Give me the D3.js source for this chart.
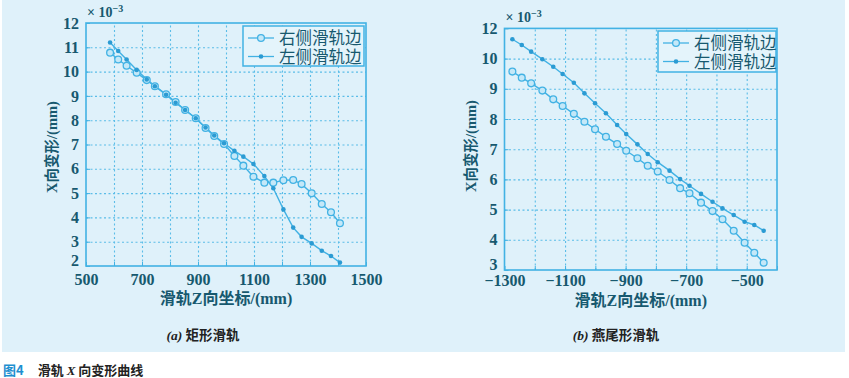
<!DOCTYPE html>
<html>
<head>
<meta charset="utf-8">
<script src="https://cdn.jsdelivr.net/npm/d3@7"></script>
<style>
  body { margin: 0; background: #fff; }
  svg { display: block; }
</style>
</head>
<body>
<svg id="chart" width="849" height="378"></svg>
<script>
// rectangular rail (a)
const rectZ = [586, 615, 645, 681, 717, 746, 786, 820, 854, 892, 927, 958, 993,
  1030, 1062, 1098, 1137, 1169, 1205, 1240, 1270, 1306, 1342, 1375, 1407];
const rectRight = [10.78, 10.5, 10.24, 9.95, 9.65, 9.4, 9.07, 8.75, 8.42, 8.08, 7.68, 7.35, 7.02,
  6.53, 6.13, 5.67, 5.43, 5.43, 5.53, 5.54, 5.37, 4.99, 4.55, 4.21, 3.76];
const rectLeft = [11.2, 10.85, 10.5, 10.07, 9.68, 9.4, 9.05, 8.72, 8.42, 8.08, 7.7, 7.37, 7.05,
  6.74, 6.5, 6.2, 5.7, 5.2, 4.33, 3.58, 3.2, 2.93, 2.63, 2.41, 2.14];

// dovetail rail (b)
const doveZ = [-1274, -1243, -1212, -1175, -1139, -1108, -1071, -1036, -1001, -965, -928, -898,
  -861, -827, -794, -755, -720, -689, -651, -613, -580, -543, -507, -475, -444];
const doveRight = [9.57, 9.37, 9.18, 8.94, 8.65, 8.43, 8.17, 7.91, 7.66, 7.41, 7.17, 6.95,
  6.7, 6.45, 6.26, 5.98, 5.71, 5.54, 5.23, 4.95, 4.68, 4.3, 3.9, 3.57, 3.24];
const doveLeft = [10.64, 10.45, 10.23, 9.98, 9.73, 9.49, 9.2, 8.85, 8.52, 8.19, 7.8, 7.5,
  7.16, 6.84, 6.57, 6.29, 6.01, 5.79, 5.52, 5.26, 5.04, 4.82, 4.6, 4.49, 4.3];

const seriesNames = ['右侧滑轨边', '左侧滑轨边'];
const rectXTicks = [500, 700, 900, 1100, 1300, 1500];
const rectYTicks = [2, 3, 4, 5, 6, 7, 8, 9, 10, 11, 12];
const doveXTicks = [-1300, -1100, -900, -700, -500];
const doveYTicks = [3, 4, 5, 6, 7, 8, 9, 10, 11];
// the top label of (b) is printed as 12 in the figure
const doveYTickLabels = ['3', '4', '5', '6', '7', '8', '9', '10', '12'];

const lineColor = '#42b2e4';
const textColor = '#17596f';
const serif = '"Liberation Serif", "Noto Sans CJK SC", serif';
const sans = '"Noto Sans CJK SC", "Noto Sans", sans-serif';

const svg = d3.select('#chart');

svg.append('rect')
  .attr('x', 2).attr('y', 0)
  .attr('width', 843).attr('height', 352)
  .attr('fill', '#dff1fa');

function panel(cfg) {
  const x = d3.scaleLinear().domain(cfg.xDomain).range(cfg.xRange);
  const y = d3.scaleLinear().domain(cfg.yDomain).range(cfg.yRange);
  const [x0, x1] = cfg.xRange;
  const [y0, y1] = cfg.yRange;
  const g = svg.append('g');

  // grid
  const xGrid = d3.range(cfg.xDomain[0] + cfg.gridStep, cfg.xDomain[1], cfg.gridStep);
  const yGrid = d3.range(cfg.yDomain[0] + 1, cfg.yDomain[1], 1);
  g.append('g')
    .attr('transform', `translate(0,${y0})`)
    .call(d3.axisBottom(x).tickValues(xGrid).tickSize(-(y0 - y1)).tickFormat(''))
    .call((a) => a.select('.domain').remove())
    .selectAll('line')
      .attr('stroke', '#5bbde8')
      .attr('stroke-width', 1.1)
      .attr('stroke-dasharray', '2,2.5');
  g.append('g')
    .attr('transform', `translate(${x0},0)`)
    .call(d3.axisLeft(y).tickValues(yGrid).tickSize(-(x1 - x0)).tickFormat(''))
    .call((a) => a.select('.domain').remove())
    .selectAll('line')
      .attr('stroke', '#5bbde8')
      .attr('stroke-width', 1.1)
      .attr('stroke-dasharray', '2,2.5');

  // axes
  const xAxis = g.append('g')
    .attr('transform', `translate(0,${y0})`)
    .call(d3.axisBottom(x).tickValues(d3.range(cfg.xDomain[0], cfg.xDomain[1] + 1, cfg.gridStep))
      .tickSize(-4).tickPadding(cfg.xPad)
      .tickFormat((d) => (cfg.xTicks.includes(d) ? d3.format('')(d) : '')));
  const yAxis = g.append('g')
    .attr('transform', `translate(${x0},0)`)
    .call(d3.axisLeft(y).tickValues(cfg.yTicks).tickSize(-4).tickPadding(7)
      .tickFormat((d, i) => (cfg.yLabels ? cfg.yLabels[i] : d)));
  [xAxis, yAxis].forEach((a) => {
    a.select('.domain').remove();
    a.selectAll('line').attr('stroke', lineColor);
    a.selectAll('text')
      .attr('fill', textColor)
      .style('font-family', serif)
      .style('font-weight', 'bold')
      .style('font-size', '16px');
  });
  // lift the lowest y label a touch so it clears the x labels
  yAxis.selectAll('.tick text').filter((d) => d === cfg.yDomain[0]).attr('dy', '-0.05em');

  g.append('rect')
    .attr('x', x0).attr('y', y1)
    .attr('width', x1 - x0).attr('height', y0 - y1)
    .attr('fill', 'none')
    .attr('stroke', lineColor)
    .attr('stroke-width', 1.6);

  // exponent
  const ex = g.append('text')
    .attr('x', x0 + 1).attr('y', y1 - 6)
    .attr('fill', textColor)
    .style('font-family', serif)
    .style('font-weight', 'bold')
    .style('font-size', '14px');
  ex.append('tspan').text('× 10');
  ex.append('tspan').attr('dy', -5).style('font-size', '10px').text('−3');

  // titles
  g.append('text')
    .attr('x', (x0 + x1) / 2).attr('y', cfg.xTitleY)
    .attr('text-anchor', 'middle')
    .attr('fill', textColor)
    .style('font-family', serif)
    .style('font-weight', 'bold')
    .style('font-size', '16px')
    .text('滑轨Z向坐标/(mm)');
  g.append('text')
    .attr('transform', `translate(${x0 - 29},${cfg.yTitleY}) rotate(-90)`)
    .attr('text-anchor', 'middle')
    .attr('fill', textColor)
    .style('font-family', serif)
    .style('font-weight', 'bold')
    .style('font-size', '14.5px')
    .text('X向变形/(mm)');

  // series
  const line = d3.line().x((d) => x(d[0])).y((d) => y(d[1]));
  const right = cfg.z.map((z, i) => [z, cfg.right[i]]);
  const left = cfg.z.map((z, i) => [z, cfg.left[i]]);
  [right, left].forEach((pts) => {
    g.append('path')
      .datum(pts)
      .attr('d', line)
      .attr('fill', 'none')
      .attr('stroke', lineColor)
      .attr('stroke-width', 1.4);
  });
  g.append('g').selectAll('circle').data(right).join('circle')
    .attr('cx', (d) => x(d[0])).attr('cy', (d) => y(d[1]))
    .attr('r', 3.4)
    .attr('fill', '#c4e8f8')
    .attr('stroke', lineColor)
    .attr('stroke-width', 1.3);
  g.append('g').selectAll('circle').data(left).join('circle')
    .attr('cx', (d) => x(d[0])).attr('cy', (d) => y(d[1]))
    .attr('r', 2.3)
    .attr('fill', '#2b9bd3');

  // legend
  const [lx, ly, lw, lh] = cfg.legend;
  const lg = g.append('g').attr('transform', `translate(${lx},${ly})`);
  lg.append('rect')
    .attr('width', lw).attr('height', lh)
    .attr('fill', '#e4f4fb')
    .attr('stroke', lineColor)
    .attr('stroke-width', 1.5);
  seriesNames.forEach((name, i) => {
    const cy = 12 + i * 18.5;
    lg.append('line')
      .attr('x1', 5).attr('x2', 31).attr('y1', cy).attr('y2', cy)
      .attr('stroke', lineColor).attr('stroke-width', 1.3);
    if (i === 0) {
      lg.append('circle').attr('cx', 18).attr('cy', cy).attr('r', 3.4)
        .attr('fill', '#c4e8f8').attr('stroke', lineColor).attr('stroke-width', 1.3);
    } else {
      lg.append('circle').attr('cx', 18).attr('cy', cy).attr('r', 2.3).attr('fill', '#2b9bd3');
    }
    lg.append('text')
      .attr('x', 36).attr('y', cy + 6)
      .attr('fill', textColor)
      .style('font-family', serif)
      .style('font-size', '16.5px')
      .text(name);
  });

  // sub caption
  const sc = svg.append('text')
    .attr('x', cfg.captionX).attr('y', 340)
    .attr('text-anchor', 'middle')
    .attr('fill', '#222')
    .style('font-family', sans)
    .style('font-weight', 'bold')
    .style('font-size', '13.5px');
  sc.append('tspan')
    .style('font-family', serif)
    .style('font-style', 'italic')
    .text(cfg.captionTag + ' ');
  sc.append('tspan').text(cfg.caption);
}

panel({
  xDomain: [500, 1500], yDomain: [2, 12],
  xRange: [86, 366], yRange: [266, 23],
  gridStep: 100, xPad: 8,
  xTicks: rectXTicks, yTicks: rectYTicks,
  z: rectZ, right: rectRight, left: rectLeft,
  legend: [243, 26, 121, 40],
  xTitleY: 304, yTitleY: 147,
  captionX: 203, captionTag: '(a)', caption: '矩形滑轨',
});

panel({
  xDomain: [-1300, -400], yDomain: [3, 11],
  xRange: [504.5, 777], yRange: [270, 28.4],
  gridStep: 100, xPad: 5,
  xTicks: doveXTicks, yTicks: doveYTicks, yLabels: doveYTickLabels,
  z: doveZ, right: doveRight, left: doveLeft,
  legend: [658, 31, 118, 41],
  xTitleY: 306, yTitleY: 146,
  captionX: 616, captionTag: '(b)', caption: '燕尾形滑轨',
});

// figure caption
const cap = svg.append('text')
  .attr('x', 3).attr('y', 375)
  .style('font-family', sans)
  .style('font-weight', 'bold')
  .style('font-size', '13px');
cap.append('tspan').attr('fill', '#1e8fd0').text('图4');
cap.append('tspan').attr('dx', 14).attr('fill', '#222').text('滑轨 ');
cap.append('tspan').attr('fill', '#222')
  .style('font-family', serif).style('font-style', 'italic').text('X');
cap.append('tspan').attr('fill', '#222').text(' 向变形曲线');
</script>
</body>
</html>
